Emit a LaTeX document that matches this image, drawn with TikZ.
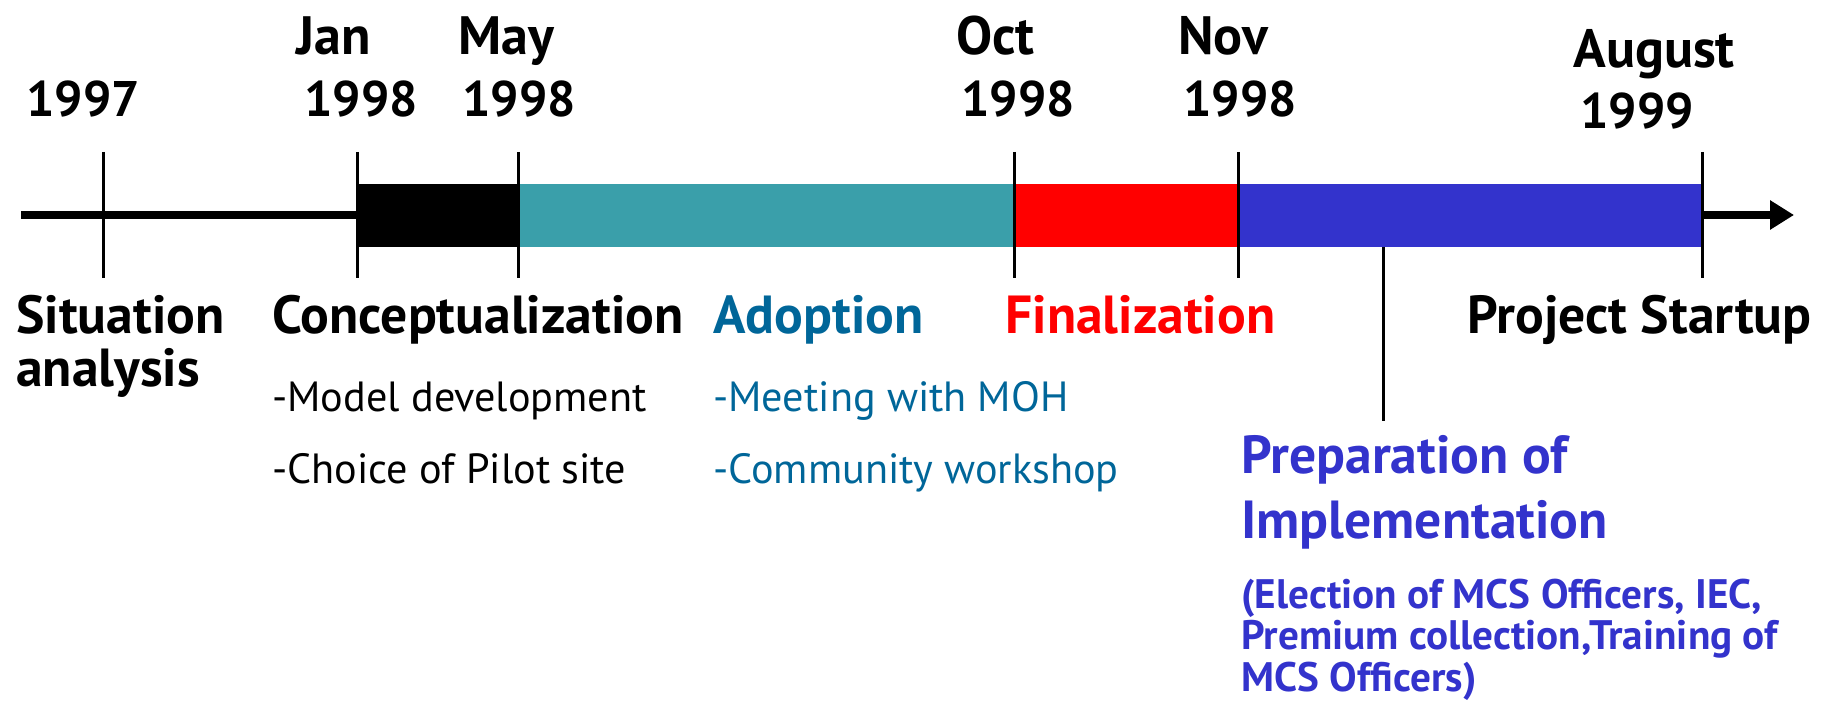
\documentclass[tikz,border=0pt]{standalone}
\usepackage{fontspec}
\setmainfont{PT Sans}
\usetikzlibrary{arrows.meta,positioning}
\definecolor{adoptbar}{HTML}{3A9FAA}
\definecolor{adopttext}{HTML}{006699}
\definecolor{prepblue}{HTML}{3333CC}

\begin{document}
\begin{tikzpicture}[x=0.5pt, y=0.5pt,
    every node/.style={inner sep=0pt, anchor=base west},
    datelbl/.style={font=\fontsize{25}{30}\bfseries},
    monthlbl/.style={font=\fontsize{27}{32}\bfseries},
    phase/.style={font=\fontsize{26.8}{32}\bfseries},
    item/.style={font=\fontsize{21.1}{25}\selectfont},
    detail/.style={font=\fontsize{20.6}{24}\bfseries, text=prepblue},
    tick/.style={line width=1.5pt}]
  \useasboundingbox (0,0) rectangle (1833,703);

  % Time axis and the phase bars
  \coordinate (start) at (21,488);
  \coordinate (end) at (1794,488);
  \draw[line width=4pt, -{Triangle[length=12pt,width=14pt]}] (start) -- (end);
  \fill[black]     (357,456) rectangle (518,519);
  \fill[adoptbar]  (518,456) rectangle (1014,519);
  \fill[red]       (1014,456) rectangle (1238,519);
  \fill[prepblue]  (1238,456) rectangle (1702,519);

  % Ticks
  \foreach \x/\n in {103/y97, 357/jan, 518/may, 1014/oct, 1238/nov, 1702/aug} {
    \coordinate (\n-top) at (\x,551);
    \coordinate (\n-bot) at (\x,425);
    \draw[tick] (\n-top) -- (\n-bot);
  }
  \coordinate (prep-top) at (1383,456);
  \coordinate (prep-bot) at (1383,282);
  \draw[tick] (prep-top) -- (prep-bot);

  % Dates
  \node[datelbl]  (d97)   at (26,586)   {1997};
  \node[monthlbl] (djan)  at (296,648)  {Jan};
  \node[datelbl]  (djany) at (304,586)  {1998};
  \node[monthlbl] (dmay)  at (458,648)  {May};
  \node[datelbl]  (dmayy) at (462,586)  {1998};
  \node[monthlbl] (doct)  at (956,648)  {Oct};
  \node[datelbl]  (docty) at (961,586)  {1998};
  \node[monthlbl] (dnov)  at (1178,648) {Nov};
  \node[datelbl]  (dnovy) at (1183,586) {1998};
  \node[monthlbl] (daug)  at (1573,635) {August};
  \node[datelbl]  (daugy) at (1580,574) {1999};

  % Phases
  \node[phase] (sit)   at (16,370)   {Situation};
  \node[phase] (sit2)  at (16,317)   {analysis};
  \node[phase] (conc)  at (272,370)  {Conceptualization};
  \node[item]  (conc1) at (272,292)  {-Model development};
  \node[item]  (conc2) at (272,220)  {-Choice of Pilot site};
  \node[phase, text=adopttext] (adop)  at (713,370) {Adoption};
  \node[item, text=adopttext]  (adop1) at (713,292) {-Meeting with MOH};
  \node[item, text=adopttext]  (adop2) at (713,220) {-Community workshop};
  \node[phase, text=red] (fin) at (1005,370) {Finalization};
  \node[phase] (start) at (1467,370) {Project Startup};
  \node[phase, text=prepblue] (prep)  at (1241,230) {Preparation of};
  \node[phase, text=prepblue] (prep2) at (1241,165) {Implementation};
  \node[detail] (prep3) at (1241,95) {(Election of MCS Officers, IEC,};
  \node[detail] (prep4) at (1241,54) {Premium collection,Training of};
  \node[detail] (prep5) at (1241,12) {MCS Officers)};
\end{tikzpicture}
\end{document}
